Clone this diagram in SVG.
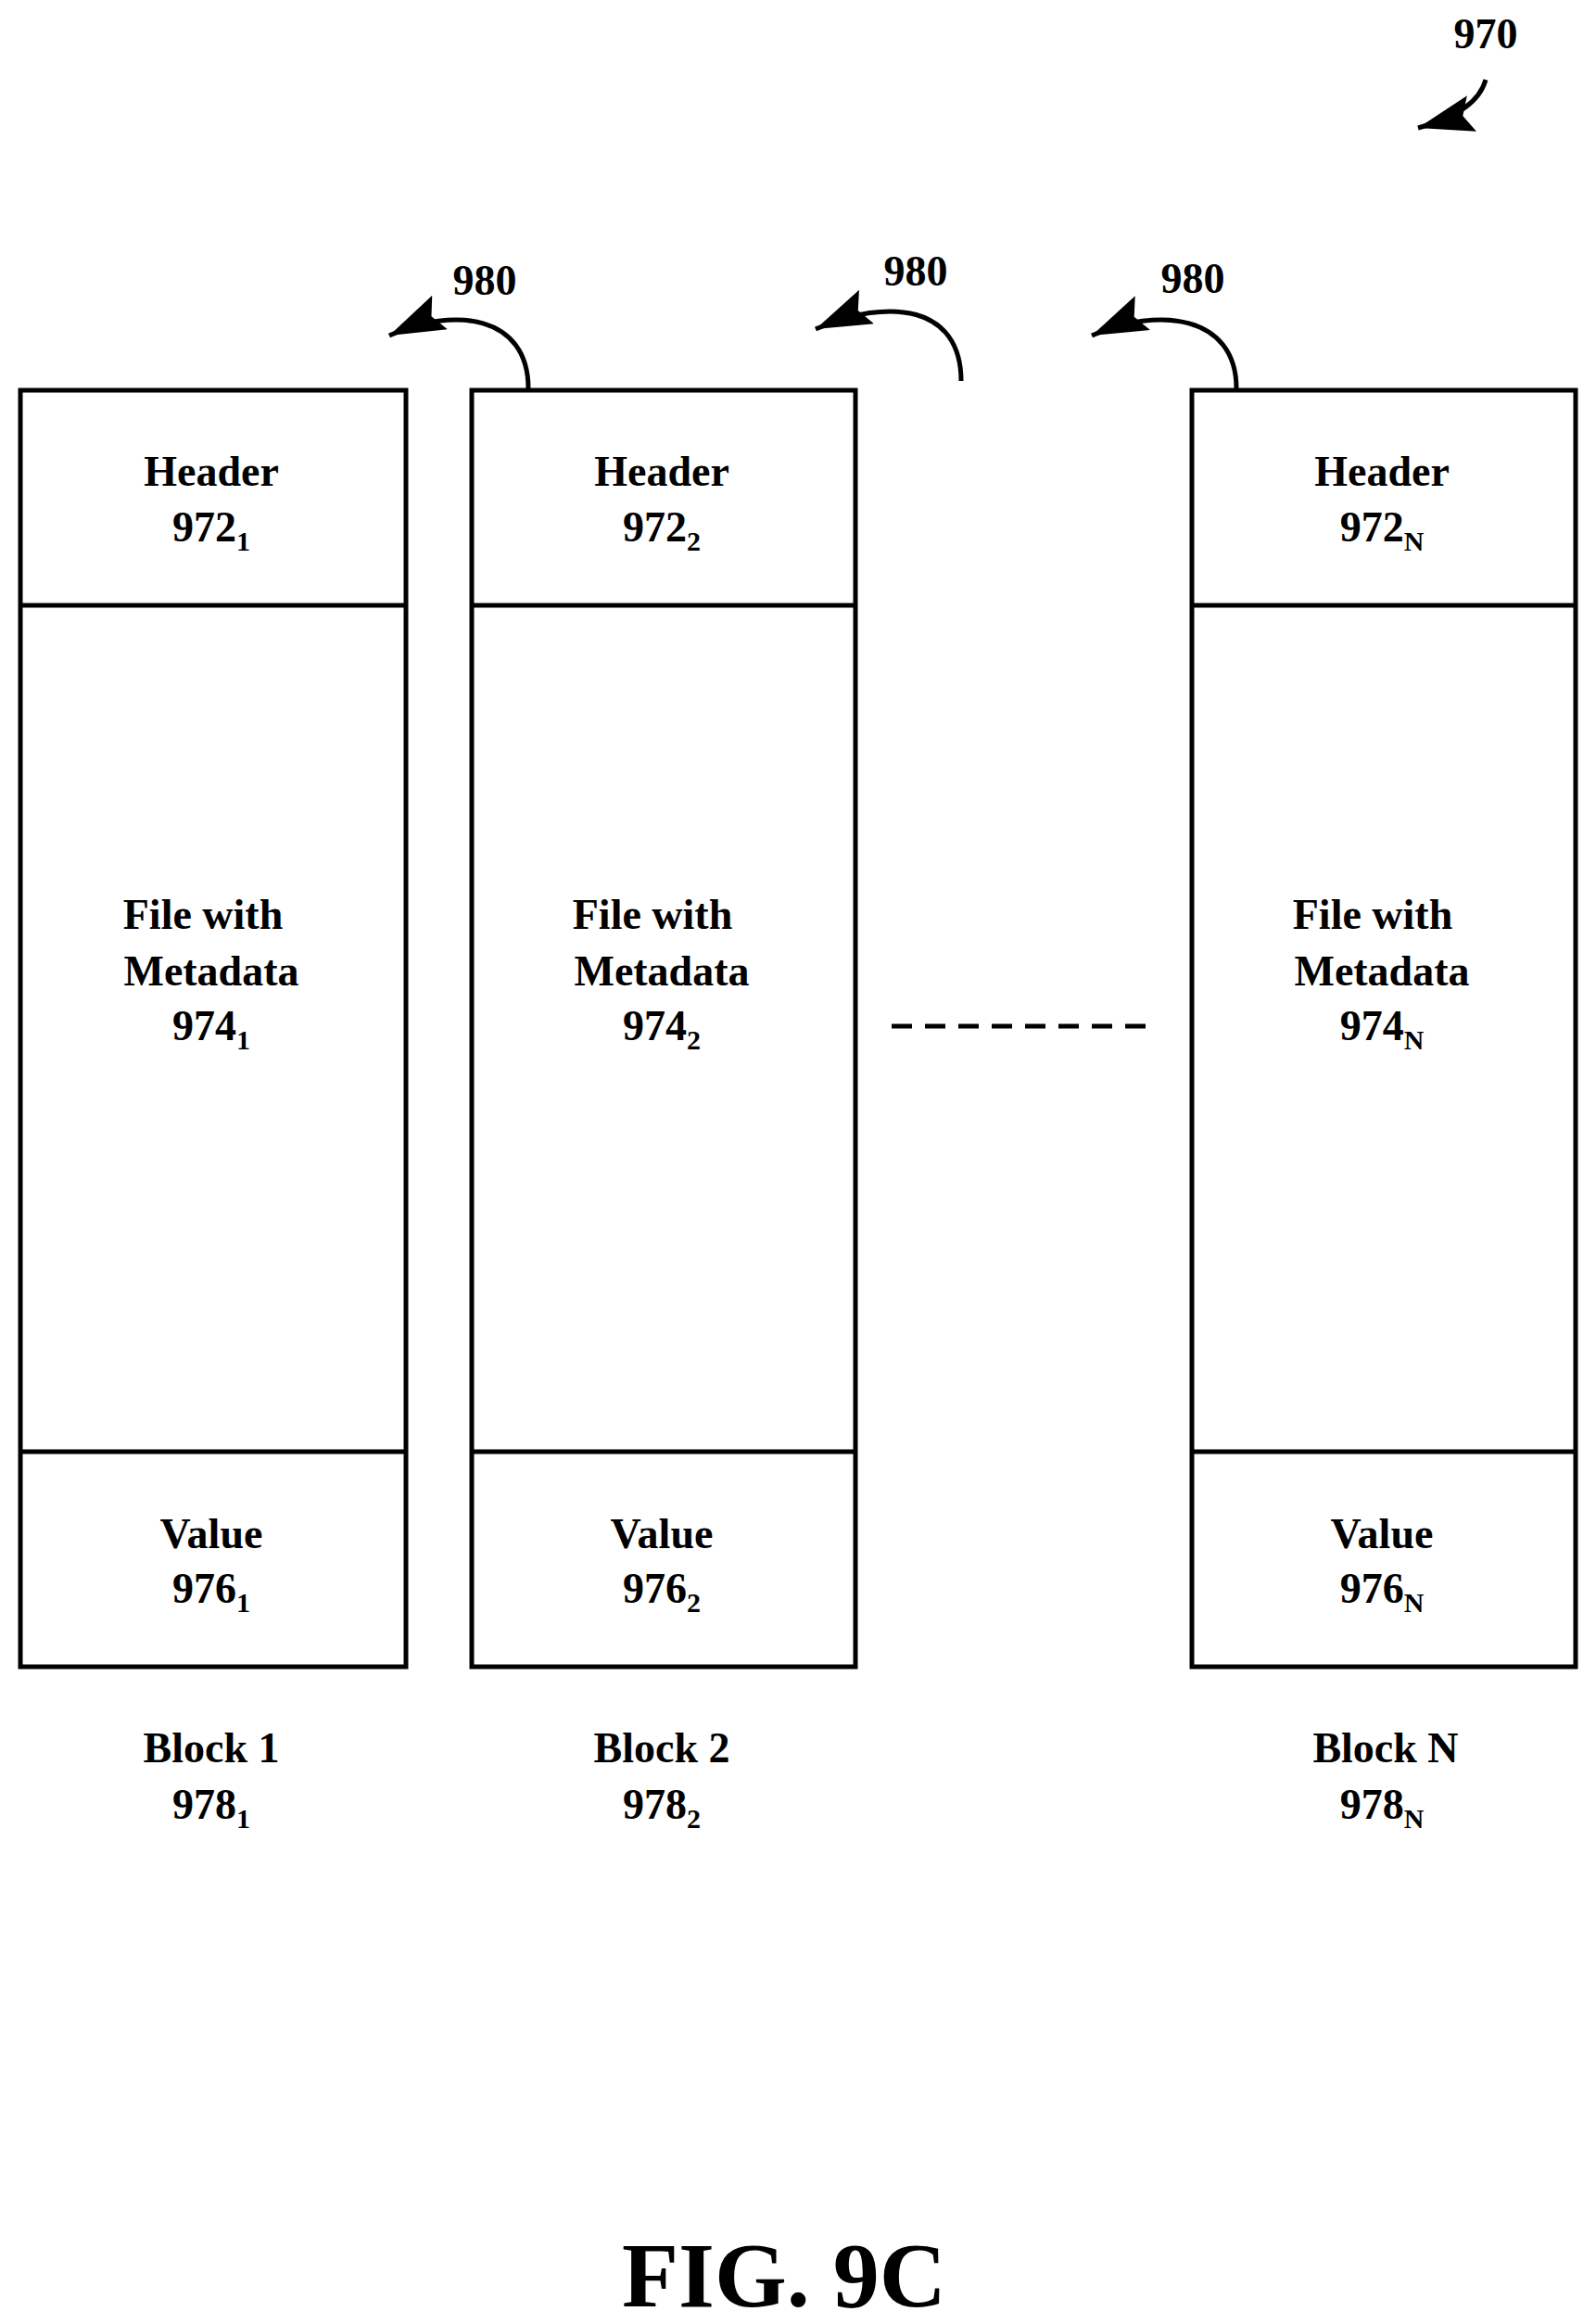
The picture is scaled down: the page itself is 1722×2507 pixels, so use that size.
<svg xmlns="http://www.w3.org/2000/svg" width="1722" height="2507" viewBox="0 0 1722 2507">
<style>
text{font-family:"Liberation Serif","Times New Roman",serif;font-weight:bold;fill:#000;text-anchor:middle}
.t{font-size:46px}
.box{fill:none;stroke:#000;stroke-width:5}
.c{fill:none;stroke:#000;stroke-width:5}
</style>
<defs>
<marker id="ah" markerUnits="userSpaceOnUse" markerWidth="70" markerHeight="50" refX="60" refY="20" orient="auto">
<path d="M0,0 L60,20 L0,40 L10,20 Z" fill="#000"/>
</marker>
</defs>
<rect width="1722" height="2507" fill="#fff"/>
<g id="block1">
<rect class="box" x="22" y="421" width="416" height="1377"/>
<line class="box" x1="22" y1="653" x2="438" y2="653"/>
<line class="box" x1="22" y1="1566" x2="438" y2="1566"/>
<text class="t" x="228" y="524">Header</text>
<text class="t" x="228" y="584">972<tspan font-size="30" dy="10">1</tspan></text>
<text class="t" x="219" y="1002">File with</text>
<text class="t" x="228" y="1063">Metadata</text>
<text class="t" x="228" y="1122">974<tspan font-size="30" dy="10">1</tspan></text>
<text class="t" x="228" y="1670">Value</text>
<text class="t" x="228" y="1729">976<tspan font-size="30" dy="10">1</tspan></text>
<text class="t" x="228" y="1901">Block 1</text>
<text class="t" x="228" y="1962">978<tspan font-size="30" dy="10">1</tspan></text>
</g>
<g id="block2">
<rect class="box" x="509" y="421" width="414" height="1377"/>
<line class="box" x1="509" y1="653" x2="923" y2="653"/>
<line class="box" x1="509" y1="1566" x2="923" y2="1566"/>
<text class="t" x="714" y="524">Header</text>
<text class="t" x="714" y="584">972<tspan font-size="30" dy="10">2</tspan></text>
<text class="t" x="704" y="1002">File with</text>
<text class="t" x="714" y="1063">Metadata</text>
<text class="t" x="714" y="1122">974<tspan font-size="30" dy="10">2</tspan></text>
<text class="t" x="714" y="1670">Value</text>
<text class="t" x="714" y="1729">976<tspan font-size="30" dy="10">2</tspan></text>
<text class="t" x="714" y="1901">Block 2</text>
<text class="t" x="714" y="1962">978<tspan font-size="30" dy="10">2</tspan></text>
</g>
<g id="blockN">
<rect class="box" x="1286" y="421" width="414" height="1377"/>
<line class="box" x1="1286" y1="653" x2="1700" y2="653"/>
<line class="box" x1="1286" y1="1566" x2="1700" y2="1566"/>
<text class="t" x="1491" y="524">Header</text>
<text class="t" x="1491" y="584">972<tspan font-size="30" dy="10">N</tspan></text>
<text class="t" x="1481" y="1002">File with</text>
<text class="t" x="1491" y="1063">Metadata</text>
<text class="t" x="1491" y="1122">974<tspan font-size="30" dy="10">N</tspan></text>
<text class="t" x="1491" y="1670">Value</text>
<text class="t" x="1491" y="1729">976<tspan font-size="30" dy="10">N</tspan></text>
<text class="t" x="1495" y="1901">Block N</text>
<text class="t" x="1491" y="1962">978<tspan font-size="30" dy="10">N</tspan></text>
</g>
<g id="connectors">
<path class="c" d="M570,419 C570,340 490,330 420,362" marker-end="url(#ah)"/>
<path class="c" d="M1037,411 C1037,330 960,320 880,355" marker-end="url(#ah)"/>
<path class="c" d="M1334,419 C1334,340 1250,330 1178,362" marker-end="url(#ah)"/>
<path class="c" d="M1603,86 C1595,115 1560,130 1530,138" marker-end="url(#ah)"/>
<line x1="962" y1="1107" x2="1250" y2="1107" stroke="#000" stroke-width="5" stroke-dasharray="22,14"/>
</g>
<text class="t" x="523" y="318" font-size="44">980</text>
<text class="t" x="988" y="308">980</text>
<text class="t" x="1287" y="316">980</text>
<text class="t" x="1603" y="52">970</text>
<text x="846" y="2488" font-size="100">FIG. 9C</text>
</svg>
